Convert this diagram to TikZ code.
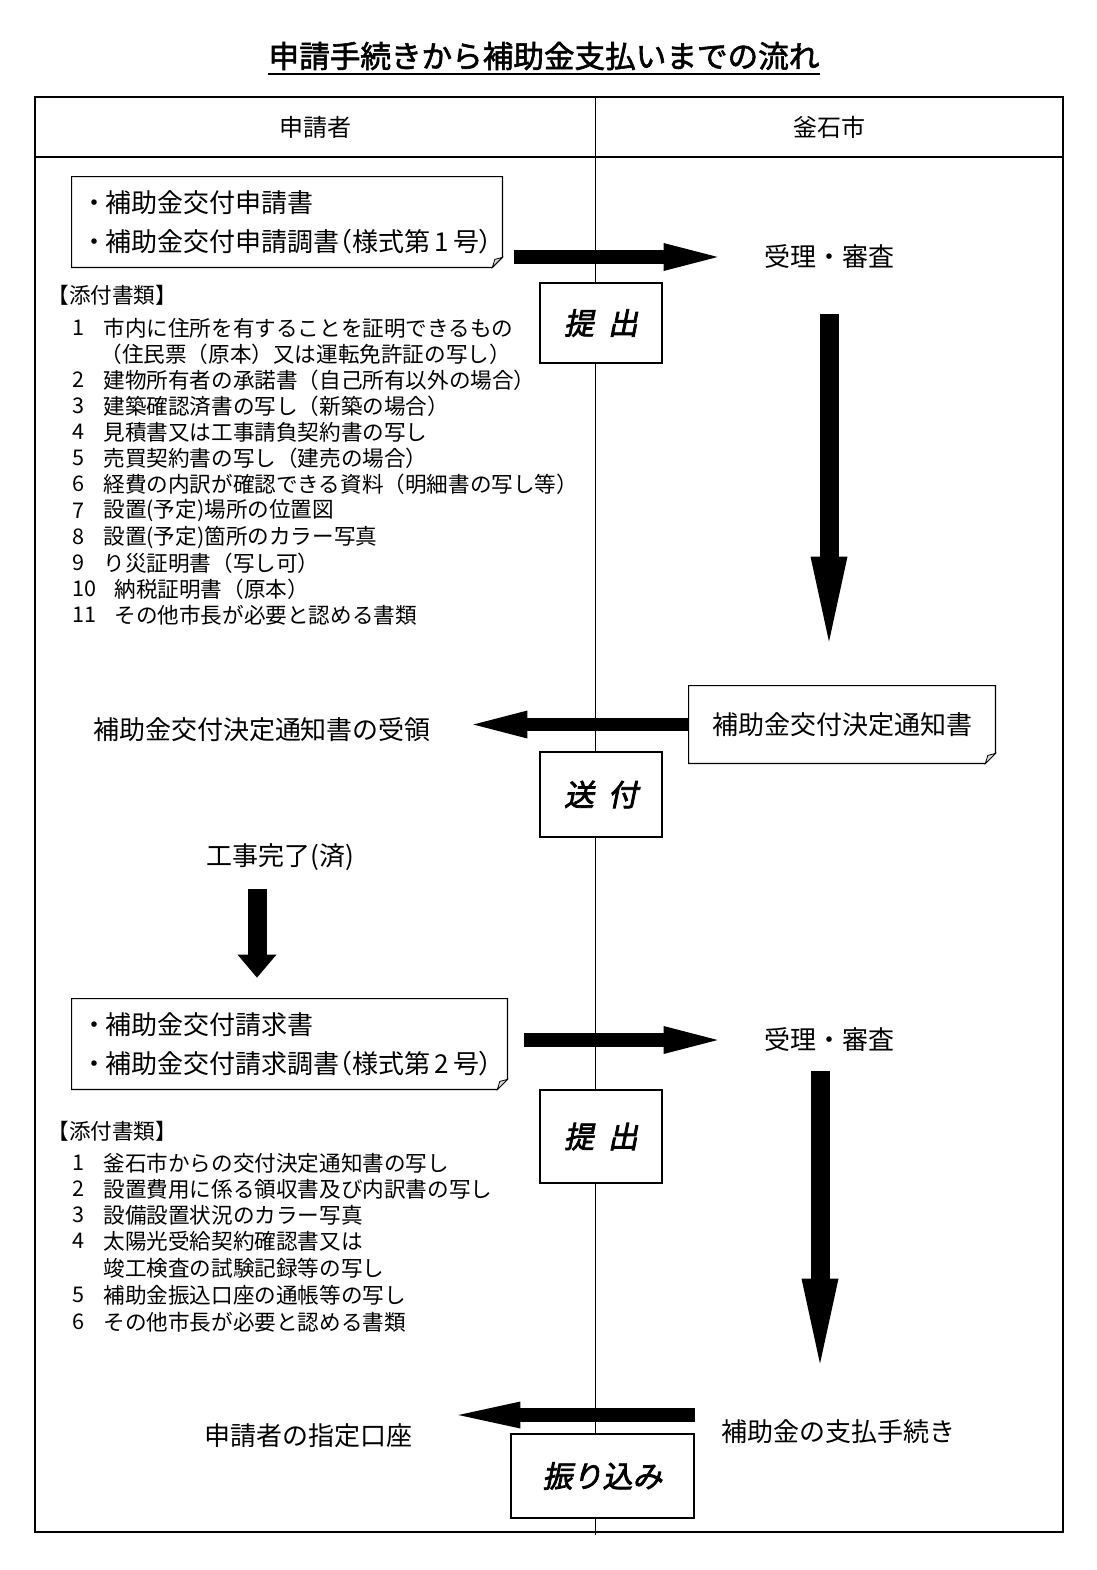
\documentclass[tikz,border=0pt]{standalone}
\usepackage{fontspec}
\setmainfont{Noto Sans CJK JP}
\newfontfamily\docfont{Noto Sans CJK JP}[RawFeature=+palt]
\newfontfamily\titlefont{Noto Sans CJK JP}[FakeBold=2]
\newfontfamily\actfont{Noto Sans CJK JP}[FakeSlant=0.2,FakeBold=2.5]
\usetikzlibrary{calc}
\usetikzlibrary{positioning,arrows.meta}

% outline of a document box with a folded corner
\newcommand{\dogear}[1]{%
  \draw[line width=0.6pt] (#1.north west) -- (#1.north east) -- ([yshift=5pt]#1.south east)
    -- ([xshift=-5pt]#1.south east) -- (#1.south west) -- cycle;
  \draw[line width=0.4pt, fill=black!15] ([yshift=5pt]#1.south east)
    -- ([xshift=-3.8pt,yshift=4pt]#1.south east) -- ([xshift=-5pt]#1.south east) -- cycle;}

\begin{document}
\begin{tikzpicture}[x=0.5pt, y=-0.5pt, >=Stealth, every node/.style={font=\fontsize{13pt}{16pt}\selectfont}]
  % compact, consistent styles
  \tikzset{docbox/.style={minimum height=45pt, inner xsep=8pt, align=left, font=\docfont\fontsize{13pt}{19.5pt}\selectfont},
    actbox/.style={draw, line width=1pt, fill=white, minimum width=61pt, inner sep=0pt, font=\actfont\fontsize{15pt}{18pt}\selectfont},
    plain/.style={inner sep=0pt},
    item/.style={anchor=west, inner sep=0pt, font=\fontsize{10.8pt}{13pt}\selectfont},
    fatarrow/.style={line width=7pt, -{Triangle[length=27pt,width=14pt,line width=0pt]}},
    downarrow/.style={line width=9.5pt, -{Triangle[length=42.5pt,width=18.5pt,line width=0pt]}}}
  \useasboundingbox (0,0) rectangle (1097,1570);

  % frame of the two columns
  \draw[line width=0.6pt] (35,97) rectangle (1063,1532);
  \draw[line width=0.6pt] (35,157) -- (1063,157);
  \draw[line width=0.5pt] (595,97) -- (595,1535);

  % title and column heads
  \node[plain, font=\titlefont\fontsize{15.3pt}{18pt}\selectfont] (title) at (544,56) {申請手続きから補助金支払いまでの流れ};
  \draw[line width=1.1pt] ([yshift=-3pt]title.base west) -- ([yshift=-3pt]title.base east);
  \node[plain, font=\fontsize{12pt}{14pt}\selectfont] (applicant) at (315,127) {申請者};
  \node[plain, font=\fontsize{12pt}{14pt}\selectfont] (city) at (829,127) {釜石市};

  % application
  \node[docbox, text width=199pt] (app) at (287,222) {\mbox{・\hspace{2pt}補助金交付申請書}\\\mbox{・\hspace{2pt}補助金交付申請調書（様式第\,1\,号）}\\[-4pt]};
  \dogear{app}
  \node[plain] (recv1) at (829,257) {受理・審査};
  \node[actbox, minimum height=40pt] (submit1) at (601,323) {提\hspace{7pt}出};
  \node[item] (att1) at (47,295) {【添付書類】};
  \foreach \y/\n/\x/\t [count=\i] in {328/1/103/市内に住所を有することを証明できるもの,
      354//100/（住民票（原本）又は運転免許証の写し）,
      380/2/103/建物所有者の承諾書（自己所有以外の場合）,
      406/3/103/建築確認済書の写し（新築の場合）,
      432/4/103/見積書又は工事請負契約書の写し,
      458/5/103/売買契約書の写し（建売の場合）,
      484/6/103/経費の内訳が確認できる資料（明細書の写し等）,
      511/7/103/設置(予定)場所の位置図,
      537/8/103/設置(予定)箇所のカラー写真,
      563/9/103/り災証明書（写し可）,
      589/10/114/納税証明書（原本）,
      615/11/114/その他市長が必要と認める書類} {
    \node[item] (num1-\i) at (72,\y) {\n};
    \node[item] (doc1-\i) at (\x,\y) {\t};
  }

  % decision notice
  \node[docbox, align=center, text width=137pt, minimum height=38.5pt] (notice) at (842,724.5) {補助金交付決定通知書};
  \dogear{notice}
  \node[plain] (receipt) at (262,730) {補助金交付決定通知書の受領};
  \node[actbox, minimum height=42.5pt] (send) at (601,794.5) {送\hspace{7pt}付};
  \node[plain] (done) at (280,857) {工事完了(済)};

  % claim
  \node[docbox, text width=201.5pt] (claim) at (289.5,1044) {\mbox{・\hspace{2pt}補助金交付請求書}\\\mbox{・\hspace{2pt}補助金交付請求調書（様式第\,2\,号）}\\[-4pt]};
  \dogear{claim}
  \node[plain] (recv2) at (829,1040) {受理・審査};
  \node[actbox, minimum height=46.5pt] (submit2) at (601,1136.5) {提\hspace{7pt}出};
  \node[item] (att2) at (47,1131) {【添付書類】};
  \foreach \y/\n/\t [count=\i] in {1163/1/釜石市からの交付決定通知書の写し,
      1189/2/設置費用に係る領収書及び内訳書の写し,
      1215/3/設備設置状況のカラー写真,
      1241/4/太陽光受給契約確認書又は,
      1268//竣工検査の試験記録等の写し,
      1295/5/補助金振込口座の通帳等の写し,
      1322/6/その他市長が必要と認める書類} {
    \node[item] (num2-\i) at (72,\y) {\n};
    \node[item] (doc2-\i) at (103,\y) {\t};
  }

  % payment
  \node[plain] (pay) at (838,1432) {補助金の支払手続き};
  \node[plain] (account) at (308,1436) {申請者の指定口座};
  \node[actbox, minimum width=91.5pt, minimum height=42pt] (transfer) at (602.5,1476) {振り込み};

  % arrows
  \draw[fatarrow, shorten <=6pt, shorten >=23pt] (app.east |- recv1) -- (recv1.west);
  \draw[downarrow, shorten <=22.5pt, shorten >=22pt] (recv1.south) -- (recv1 |- notice.north);
  \draw[fatarrow, line width=6.5pt, shorten >=21pt] (notice.west) -- (notice.west -| receipt.east);
  \draw[line width=9.5pt, -{Triangle[length=11.5pt,width=19.5pt,line width=0pt]}, shorten <=9pt, shorten >=10.5pt]
    ([xshift=-11.5pt]done.south) -- ([xshift=-11.5pt]done.south |- claim.north);
  \draw[fatarrow, shorten <=8.5pt, shorten >=23pt] (claim.east |- recv2) -- (recv2.west);
  \draw[downarrow, shorten <=9.5pt, shorten >=28pt] ([xshift=-4.5pt]recv2.south) -- ([xshift=-4.5pt]recv2.south |- pay.north);
  \draw[line width=7pt, -{Triangle[length=31pt,width=13.5pt,line width=0pt]}, shorten >=23pt]
    ([yshift=9pt]transfer.north east) -- ([yshift=9pt]transfer.north east -| account.east);
\end{tikzpicture}
\end{document}
